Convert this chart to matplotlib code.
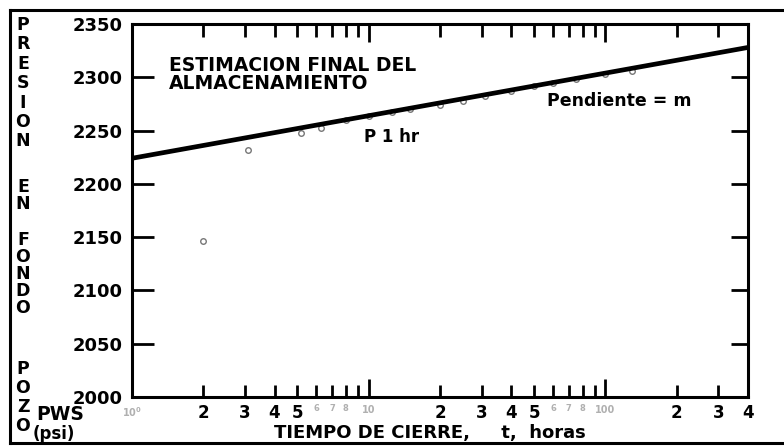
import matplotlib
matplotlib.use("Agg")
import matplotlib.pyplot as plt
from matplotlib.lines import Line2D

# datos de restauracion de presion (tiempo de cierre en horas, Pws en psi)
t_obs = [2, 3.1, 5.15, 6.3, 8, 10, 12.5, 15, 20, 25, 31, 40, 50, 60, 75, 100, 130]
p_obs = [2146, 2232, 2248, 2252, 2259.5, 2263.5, 2267.5, 2270.5, 2274, 2278, 2282,
         2287.5, 2291.5, 2294.5, 2298.5, 2303.5, 2306]

# recta semilog ajustada
t_fit = [1, 400]
p_fit = [2224, 2328]

y_ticks = [2000, 2050, 2100, 2150, 2200, 2250, 2300, 2350]
x_major = [1, 10, 100]
x_major_lbl = ["10$^0$", "10", "100"]
x_minor = [2, 3, 4, 5, 6, 7, 8, 9, 20, 30, 40, 50, 60, 70, 80, 90, 200, 300, 400]
x_minor_lbl = ["2", "3", "4", "5", "6", "7", "8", "",
               "2", "3", "4", "5", "6", "7", "8", "", "2", "3", "4"]

plt.rcParams['font.family'] = ['DejaVu Sans']
plt.rcParams['font.weight'] = 'bold'

fig = plt.figure(figsize=(7.84, 4.46), dpi=100)
ax = fig.add_axes([132 / 784, 49 / 446, 616 / 784, 373 / 446])

ax.plot(t_obs, p_obs, 'o', ms=4, mfc='white', mec='#777777', mew=1.0, zorder=2)
ax.plot(t_fit, p_fit, color='black', lw=3.4, solid_capstyle='butt', zorder=3)

ax.set_xscale('log')
ax.set_xlim(1, 400)
ax.set_ylim(2000, 2350)

for s in ax.spines.values():
    s.set_linewidth(2.2)

ax.set_yticks(y_ticks)
ax.tick_params(axis='y', direction='in', length=16, width=2, left=True, right=True,
               labelsize=13, pad=7)
for tk in ax.yaxis.get_major_ticks():
    tk.tick2line.set_markersize(12)

ax.set_xticks(x_major, x_major_lbl)
ax.set_xticks(x_minor, x_minor_lbl, minor=True)
ax.tick_params(axis='x', which='major', direction='in', length=13, width=2,
               top=True, bottom=True, labelsize=7, pad=6, labelcolor='#b0b0b0')
ax.tick_params(axis='x', which='minor', direction='in', length=9, width=2,
               top=True, bottom=True, labelsize=12, pad=5)
for lbl in ax.get_xticklabels(minor=True):
    if lbl.get_text() in ("6", "7", "8"):
        lbl.set_fontsize(6)
        lbl.set_color('#b0b0b0')

ax.text(0.060, 0.915, "ESTIMACION FINAL DEL\nALMACENAMIENTO", transform=ax.transAxes,
        ha='left', va='top', fontsize=13.5, fontweight='bold', linespacing=0.92)
ax.text(0.377, 0.697, "P 1 hr", transform=ax.transAxes, ha='left', va='center',
        fontsize=12, fontweight='bold')
ax.text(0.674, 0.794, "Pendiente = m", transform=ax.transAxes, ha='left', va='center',
        fontsize=12.5, fontweight='bold')

fig.text(430 / 784, 1 - 433 / 446, "TIEMPO DE CIERRE,     t,  horas", ha='center',
         va='center', fontsize=13, fontweight='bold')

# titulo del eje y en letras apiladas
for word, y0, ls in [("PRESION", 16, 1.1), ("EN", 178, 0.95),
                     ("FONDO", 231, 0.92), ("POZO", 360, 1.06)]:
    fig.text(23 / 784, 1 - y0 / 446, "\n".join(word), ha='center', va='top',
             fontsize=12.5, fontweight='bold', linespacing=ls)
fig.text(36 / 784, 1 - 415 / 446, "PWS", ha='left', va='center', fontsize=13.5,
         fontweight='bold')
fig.text(33 / 784, 1 - 434 / 446, "(psi)", ha='left', va='center', fontsize=12,
         fontweight='bold')

# marco exterior
frame = dict(color='black', lw=2.2, transform=fig.transFigure)
fig.add_artist(Line2D([10 / 784, 10 / 784], [1 - 10 / 446, 1 - 443 / 446], **frame))
fig.add_artist(Line2D([10 / 784, 1.0], [1 - 10 / 446, 1 - 10 / 446], **frame))
fig.add_artist(Line2D([10 / 784, 1.0], [1 - 443 / 446, 1 - 443 / 446], **frame))

fig.savefig("out.png", dpi=100)
